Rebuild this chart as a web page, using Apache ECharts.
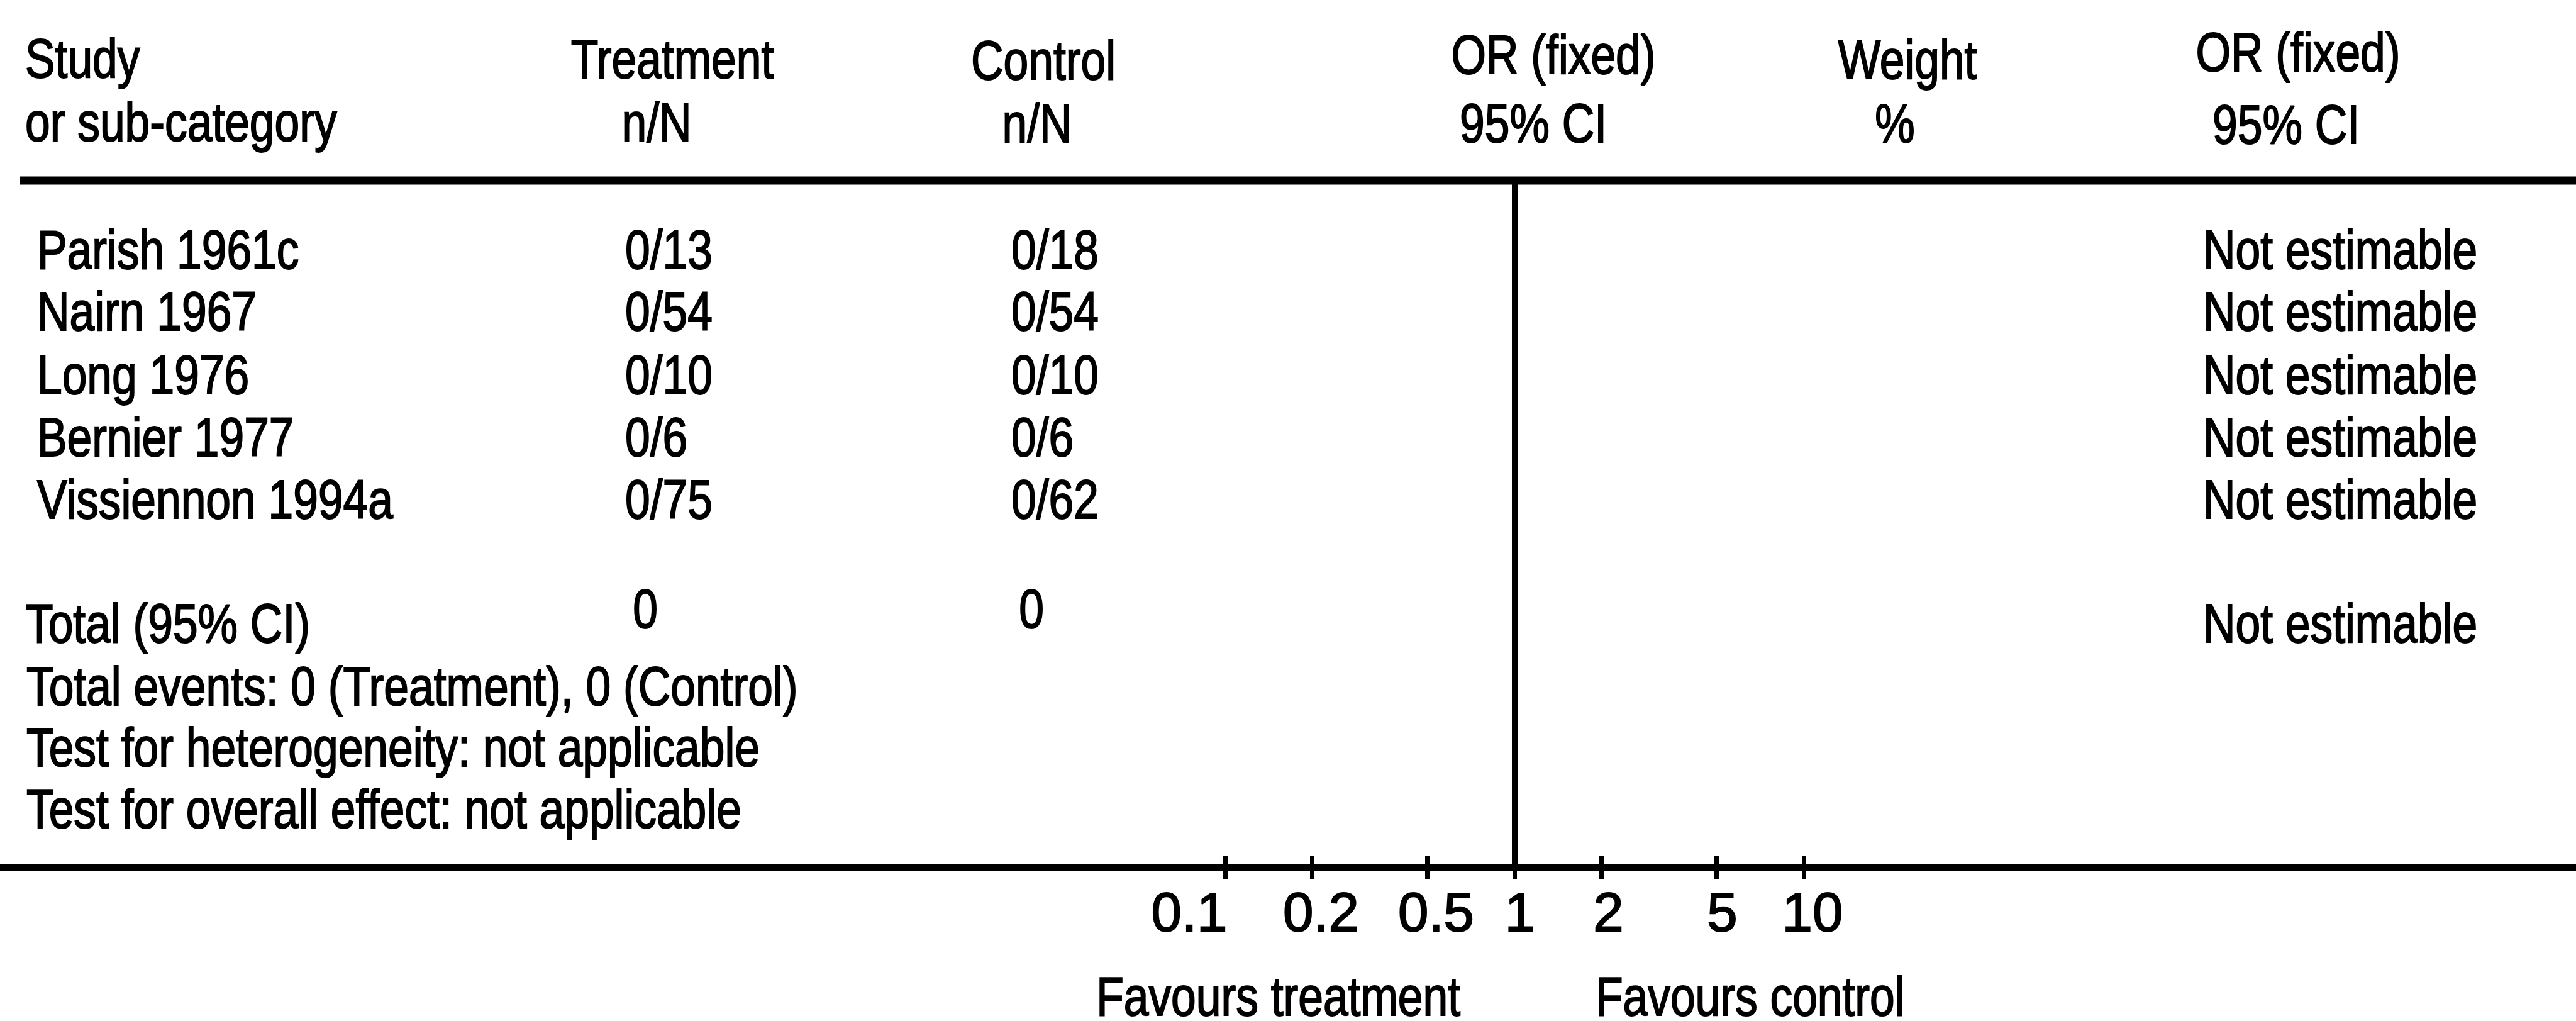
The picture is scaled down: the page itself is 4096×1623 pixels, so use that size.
<!DOCTYPE html>
<html><head><meta charset="utf-8">
<script src="https://cdn.jsdelivr.net/npm/echarts@6/dist/echarts.min.js"></script>
<style>html,body{margin:0;padding:0;background:#fff}#c{width:4096px;height:1623px}</style>
</head><body><div id="c"></div>
<script>
// ---------- data ----------
const headerRow1 = ["Study", "Treatment", "Control", "OR (fixed)", "Weight", "OR (fixed)"];
const headerRow2 = ["or sub-category", "n/N", "n/N", "95% CI", "%", "95% CI"];
const studies = ["Parish 1961c", "Nairn 1967", "Long 1976", "Bernier 1977", "Vissiennon 1994a"];
const treatEvents = [0, 0, 0, 0, 0];
const treatTotals = [13, 54, 10, 6, 75];
const ctrlEvents = [0, 0, 0, 0, 0];
const ctrlTotals = [18, 54, 10, 6, 62];
const orResults = ["Not estimable", "Not estimable", "Not estimable", "Not estimable", "Not estimable"];
const totalLabel = "Total (95% CI)";
const totalTreat = 0;
const totalCtrl = 0;
const totalResult = "Not estimable";
const footerLines = [
  "Total events: 0 (Treatment), 0 (Control)",
  "Test for heterogeneity: not applicable",
  "Test for overall effect: not applicable"
];
const tickValues = [0.1, 0.2, 0.5, 1, 2, 5, 10];
const tickLabels = ["0.1", "0.2", "0.5", "1", "2", "5", "10"];
const nullEffect = 1;
const favours = ["Favours treatment", "Favours control"];

// ---------- layout / style ----------
const W = 4096, H = 1623;
const FS = 87;
const SX = 0.82; // horizontal condensing of the narrow typeface
const FONT = "'Liberation Sans',Arial,Helvetica,sans-serif";
const STROKE_W = 2;
const BASE_SHIFT = 0.31 * FS;
const DECADE_PX = 460, NULL_PX = 2408;
const TOP_LINE_Y = 287, AXIS_Y = 1379;
const H1_X = [40, 1069, 1659, 2470, 3033, 3654];
const H1_AL = ['left', 'center', 'center', 'center', 'center', 'center'];
const H1_B = [126, 127, 129, 120, 128, 116];
const H2_X = [40, 1044, 1649, 2438, 3013, 3635];
const H2_B = [227, 228, 229, 229, 229, 231];
const ROW_B = [430, 528, 629, 728, 827];
const STUDY_X = 59, TREAT_X = 994, CTRL_X = 1608, OR_X = 3503;
const TOTAL_B = 1024, TOTAL_NUM_B = 1001, TOTAL_TREAT_CX = 1026, TOTAL_CTRL_CX = 1640;
const FOOT_X = 42, FOOT_B = [1124, 1221, 1319];
const LABEL_NUDGE = [-57, 14, 14, 9, 11, 9, 14];
const FAV_B = 1617, FAV_L_RIGHT = 2322, FAV_R_LEFT = 2537;

function txt(s, x, baseline, align) {
  return {
    type: 'text', x: x, y: baseline - BASE_SHIFT, scaleX: SX, silent: true,
    style: {
      text: s, fill: '#000', stroke: '#000', lineWidth: STROKE_W,
      font: FS + 'px ' + FONT, align: align || 'left', verticalAlign: 'middle'
    }
  };
}

const graphics = [];
headerRow1.forEach((s, i) => graphics.push(txt(s, H1_X[i], H1_B[i], H1_AL[i])));
headerRow2.forEach((s, i) => graphics.push(txt(s, H2_X[i], H2_B[i], H1_AL[i])));
studies.forEach((s, i) => {
  graphics.push(txt(s, STUDY_X, ROW_B[i], 'left'));
  graphics.push(txt(treatEvents[i] + '/' + treatTotals[i], TREAT_X, ROW_B[i], 'left'));
  graphics.push(txt(ctrlEvents[i] + '/' + ctrlTotals[i], CTRL_X, ROW_B[i], 'left'));
  graphics.push(txt(orResults[i], OR_X, ROW_B[i], 'left'));
});
graphics.push(txt(totalLabel, 41, TOTAL_B, 'left'));
graphics.push(txt(String(totalTreat), TOTAL_TREAT_CX, TOTAL_NUM_B, 'center'));
graphics.push(txt(String(totalCtrl), TOTAL_CTRL_CX, TOTAL_NUM_B, 'center'));
graphics.push(txt(totalResult, OR_X, TOTAL_B, 'left'));
footerLines.forEach((s, i) => graphics.push(txt(s, FOOT_X, FOOT_B[i], 'left')));
graphics.push(txt(favours[0], FAV_L_RIGHT, FAV_B, 'right'));
graphics.push(txt(favours[1], FAV_R_LEFT, FAV_B, 'left'));
graphics.push({
  type: 'line', silent: true,
  shape: { x1: 32, y1: TOP_LINE_Y, x2: W, y2: TOP_LINE_Y },
  style: { stroke: '#000', lineWidth: 13 }
});

const logMin = -NULL_PX / DECADE_PX;
const logMax = (W - NULL_PX) / DECADE_PX;
const tickLogs = tickValues.map(v => Math.log10(v));
const labelLogs = tickLogs.map((v, i) => v + LABEL_NUDGE[i] / DECADE_PX);
function labelFor(v) {
  for (let i = 0; i < labelLogs.length; i++) if (Math.abs(labelLogs[i] - v) < 1e-6) return tickLabels[i];
  return '';
}

const chart = echarts.init(document.getElementById('c'), null, { renderer: 'canvas' });
chart.setOption({
  animation: false,
  backgroundColor: '#fff',
  grid: { left: 0, right: 0, top: TOP_LINE_Y, bottom: H - AXIS_Y, containLabel: false },
  xAxis: [
    {
      type: 'value', min: logMin, max: logMax, position: 'bottom',
      splitLine: { show: false },
      axisLine: { show: true, lineStyle: { color: '#000', width: 12 } },
      axisTick: { show: true, customValues: tickLogs, length: 18, lineStyle: { color: '#000', width: 7 } },
      axisLabel: {
        show: true, customValues: labelLogs, margin: 34, showMinLabel: true, showMaxLabel: true,
        fontSize: FS, fontFamily: FONT, color: '#000', lineHeight: FS,
        textBorderColor: '#000', textBorderWidth: STROKE_W,
        formatter: labelFor
      }
    },
    {
      type: 'value', min: logMin, max: logMax, position: 'bottom',
      splitLine: { show: false },
      axisLine: { show: false },
      axisTick: { show: true, inside: true, customValues: tickLogs, length: 18, lineStyle: { color: '#000', width: 7 } },
      axisLabel: { show: false }
    }
  ],
  yAxis: { type: 'value', min: 0, max: 1, show: false },
  series: [{
    type: 'scatter', xAxisIndex: 0, data: [], silent: true,
    markLine: {
      silent: true, symbol: ['none', 'none'], label: { show: false },
      lineStyle: { color: '#000', width: 9, type: 'solid' },
      data: [{ xAxis: Math.log10(nullEffect) }]
    }
  }],
  graphic: graphics
});
</script>
</body></html>
